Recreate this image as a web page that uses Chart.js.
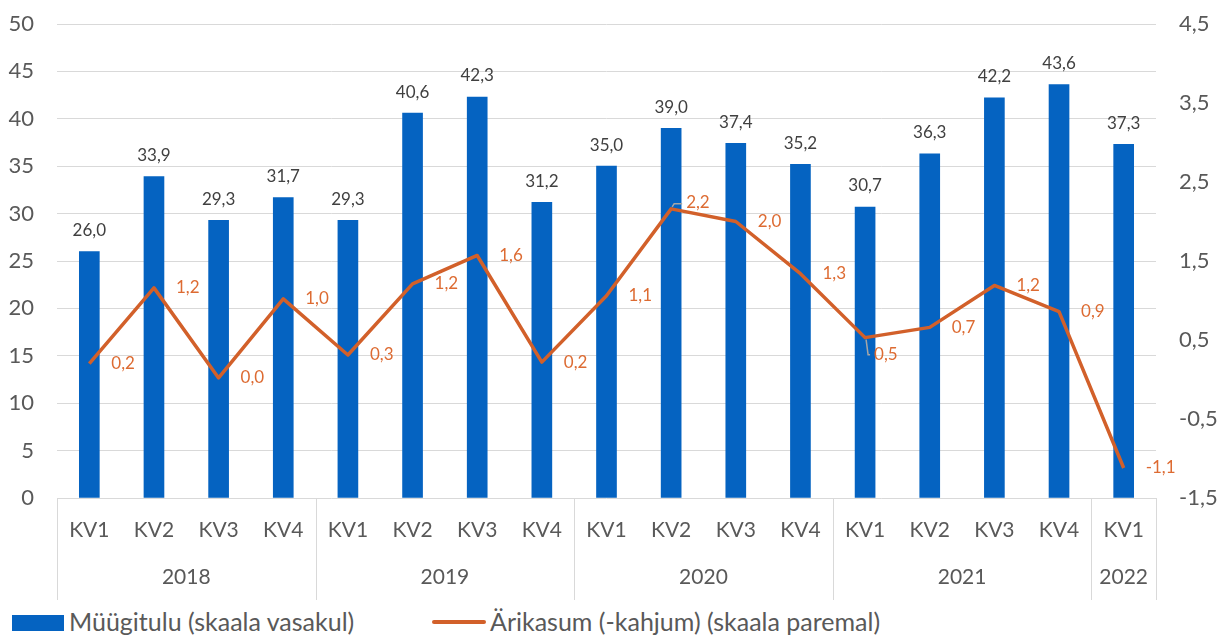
<!DOCTYPE html>
<html>
<head>
<meta charset="utf-8">
<script src="https://cdn.jsdelivr.net/npm/chart.js@4.4.1/dist/chart.umd.min.js"></script>
<style>
  body { margin: 0; background: #fff; font-family: Lato, sans-serif; }
  #wrap { position: relative; width: 1217px; height: 635px; overflow: hidden; }
  #chartBox { position: absolute; left: 0; top: 0; width: 1217px; height: 605px; }
  .lg { position: absolute; font-size: 25px; color: #595959; white-space: nowrap; line-height: 25px; }
  .swatch { position: absolute; }
</style>
</head>
<body>
<div id="wrap">
  <div id="chartBox"><canvas id="kvChart"></canvas></div>
  <div class="swatch" style="left:12px; top:615px; width:52px; height:16px; background:#0563C1;"></div>
  <div class="lg" style="left:69px; top:609px;">Müügitulu (skaala vasakul)</div>
  <div class="swatch" style="left:432px; top:620px; width:54px; height:4px; background:#D2602A; border-radius:2px;"></div>
  <div class="lg" style="left:490px; top:609px;">Ärikasum (-kahjum) (skaala paremal)</div>
</div>
<script>
const quarters = ["KV1","KV2","KV3","KV4","KV1","KV2","KV3","KV4","KV1","KV2","KV3","KV4","KV1","KV2","KV3","KV4","KV1"];
const quarterYears = ["2018","2018","2018","2018","2019","2019","2019","2019","2020","2020","2020","2020","2021","2021","2021","2021","2022"];
const salesRevenue = [26.0, 33.9, 29.3, 31.7, 29.3, 40.6, 42.3, 31.2, 35.0, 39.0, 37.4, 35.2, 30.7, 36.3, 42.2, 43.6, 37.3];
const operatingProfit = [0.2, 1.16, 0.02, 1.02, 0.31, 1.21, 1.57, 0.22, 1.06, 2.16, 2.0, 1.34, 0.53, 0.66, 1.19, 0.86, -1.12];
const leftTicks = [0, 5, 10, 15, 20, 25, 30, 35, 40, 45, 50];
const rightTicks = [-1.5, -0.5, 0.5, 1.5, 2.5, 3.5, 4.5];

// labels Excel moved off the line (with a small leader line)
const labelNudge = { 9: [-7, -6], 12: [-13, 17] };

const fmt = v => v.toFixed(1).replace(".", ",");

Chart.defaults.font.family = "Lato, sans-serif";
Chart.defaults.color = "#595959";

const valueLabels = {
  id: "valueLabels",
  afterDatasetsDraw(chart) {
    const ctx = chart.ctx;
    ctx.save();
    ctx.font = "17px Lato";
    ctx.textBaseline = "middle";

    ctx.fillStyle = "#404040";
    ctx.textAlign = "center";
    chart.getDatasetMeta(0).data.forEach((bar, i) => {
      ctx.fillText(fmt(salesRevenue[i]), bar.x, bar.y - 21);
    });

    ctx.textAlign = "left";
    chart.getDatasetMeta(1).data.forEach((pt, i) => {
      let lx = pt.x + 22, ly = pt.y;
      const n = labelNudge[i];
      if (n) {
        lx += n[0];
        ly += n[1];
        ctx.strokeStyle = "#A6A6A6";
        ctx.lineWidth = 1.5;
        ctx.beginPath();
        const my = ly < pt.y ? ly + 1 : ly;
        ctx.moveTo(pt.x + 1, pt.y + (ly < pt.y ? -2 : 2));
        ctx.lineTo(pt.x + 3, my);
        ctx.lineTo(lx - 4, my);
        ctx.stroke();
      }
      ctx.fillStyle = "#DD6B32";
      ctx.fillText(fmt(operatingProfit[i]), lx, ly);
    });
    ctx.restore();
  }
};

const yearAxis = {
  id: "yearAxis",
  afterDraw(chart) {
    const ctx = chart.ctx;
    const x = chart.scales.x;
    const half = x.width / quarters.length / 2;
    const top = chart.chartArea.bottom;
    ctx.save();
    ctx.strokeStyle = "#D9D9D9";
    ctx.lineWidth = 1;
    ctx.fillStyle = "#595959";
    ctx.font = "21px Lato";
    ctx.textAlign = "center";
    ctx.textBaseline = "middle";
    let start = 0;
    for (let i = 1; i <= quarterYears.length; i++) {
      if (i === quarterYears.length || quarterYears[i] !== quarterYears[start]) {
        const x0 = x.getPixelForValue(start) - half;
        const x1 = x.getPixelForValue(i - 1) + half;
        ctx.fillText(quarterYears[start], (x0 + x1) / 2, 577);
        [x0, x1].forEach(px => {
          ctx.beginPath();
          ctx.moveTo(Math.round(px) + 0.5, top);
          ctx.lineTo(Math.round(px) + 0.5, 600);
          ctx.stroke();
        });
        start = i;
      }
    }
    ctx.restore();
  }
};

const fitVertical = width => s => {
  s.width = width;
  s.paddingTop = 0;
  s.paddingBottom = 0;
};

new Chart(document.getElementById("kvChart"), {
  data: {
    labels: quarters,
    datasets: [
      {
        type: "bar",
        label: "Müügitulu (skaala vasakul)",
        data: salesRevenue,
        backgroundColor: "#0563C1",
        barThickness: 20,
        yAxisID: "y",
        order: 1
      },
      {
        type: "line",
        label: "Ärikasum (-kahjum) (skaala paremal)",
        data: operatingProfit,
        borderColor: "#D2602A",
        borderWidth: 3.5,
        borderJoinStyle: "round",
        pointRadius: 0,
        tension: 0,
        yAxisID: "y1",
        order: 0
      }
    ]
  },
  options: {
    responsive: true,
    maintainAspectRatio: false,
    animation: false,
    layout: { padding: { top: 24, left: 0, right: 0, bottom: 0 } },
    plugins: { legend: { display: false }, tooltip: { enabled: false } },
    scales: {
      x: {
        grid: { display: false, drawTicks: false },
        border: { display: false },
        ticks: { font: { size: 21 }, color: "#595959", padding: 20, maxRotation: 0, autoSkip: false },
        afterFit: s => { s.height = 107; }
      },
      y: {
        position: "left",
        min: 0,
        max: 50,
        afterBuildTicks: s => { s.ticks = leftTicks.map(v => ({ value: v })); },
        grid: { color: "#D9D9D9", lineWidth: 1, drawTicks: false },
        border: { display: false },
        ticks: { font: { size: 22 }, color: "#595959", padding: 23 },
        afterFit: fitVertical(57)
      },
      y1: {
        position: "right",
        min: -1.5,
        max: 4.5,
        afterBuildTicks: s => { s.ticks = rightTicks.map(v => ({ value: v })); },
        grid: { display: false, drawTicks: false },
        border: { display: false },
        ticks: { font: { size: 22 }, color: "#595959", padding: 23, callback: v => fmt(v) },
        afterFit: fitVertical(61)
      }
    }
  },
  plugins: [valueLabels, yearAxis]
});
</script>
</body>
</html>
